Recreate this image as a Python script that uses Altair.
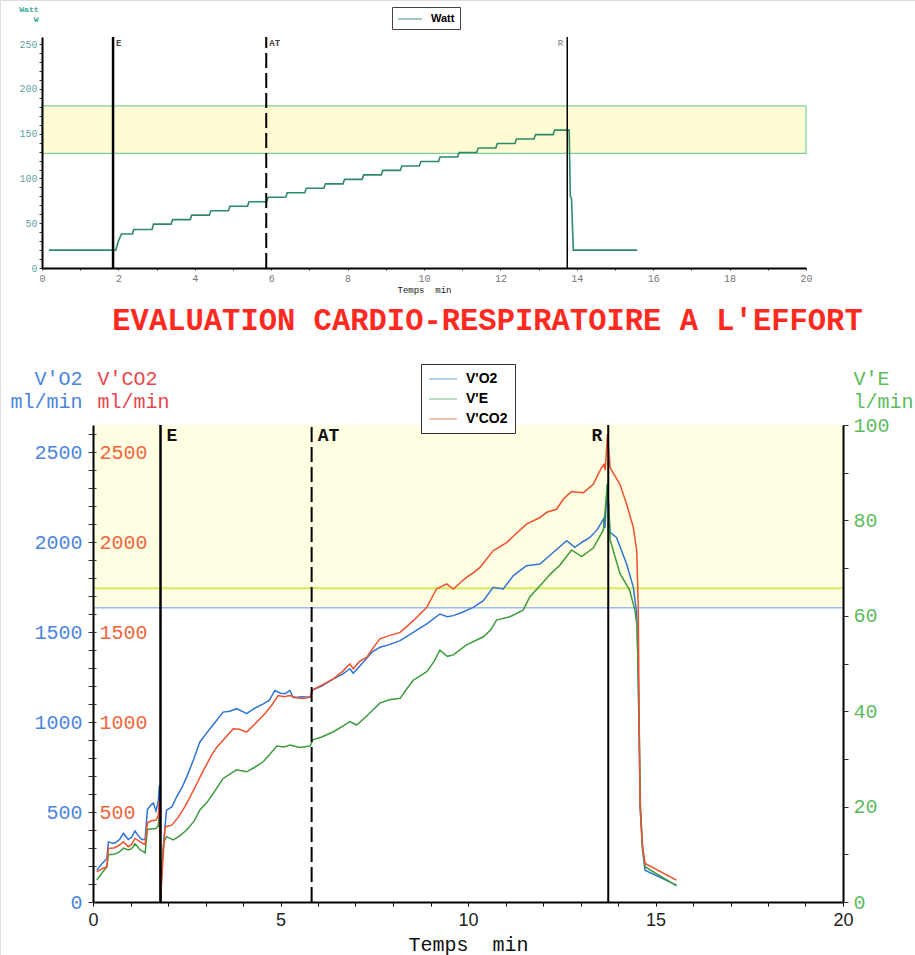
import altair as alt
import pandas as pd

# ---------------- Top panel (Watt) ----------------
watt_t = [0.18, 1.93, 2.00, 2.08, 2.37, 2.40, 2.88, 2.92, 3.38, 3.42, 3.88, 3.92,
          4.38, 4.42, 4.88, 4.92, 5.38, 5.42, 5.88, 5.92, 6.38, 6.42, 6.88, 6.92,
          7.38, 7.42, 7.88, 7.92, 8.38, 8.42, 8.88, 8.92, 9.38, 9.42, 9.88, 9.92,
          10.38, 10.42, 10.88, 10.92, 11.38, 11.42, 11.88, 11.92, 12.38, 12.42,
          12.88, 12.92, 13.38, 13.42, 13.80, 13.83, 13.86, 13.91, 15.58]
watt_v = [20, 20, 30, 38, 38, 43, 43, 49, 49, 54, 54, 59,
          59, 64, 64, 69, 69, 74, 74, 79, 79, 84, 84, 89,
          89, 94, 94, 99, 99, 104, 104, 109, 109, 114, 114, 119,
          119, 124, 124, 129, 129, 134, 134, 139, 139, 144,
          144, 149, 149, 154, 154, 80, 78, 20, 20]
top_marker_lab = ["E", "AT", "R"]
top_marker_t = [1.86, 5.87, 13.75]
top_band_lo, top_band_hi = 128, 181

# ---------------- Bottom panel ----------------
vo2_t = [0.10, 0.25, 0.37, 0.41, 0.55, 0.63, 0.72, 0.81, 0.94, 1.03, 1.12, 1.20, 1.30, 1.39,
         1.45, 1.55, 1.61, 1.68, 1.74, 1.77, 1.80, 1.84, 1.89, 1.96, 2.10, 2.23, 2.38, 2.50,
         2.68, 2.85, 3.00, 3.12, 3.30, 3.47, 3.65, 3.83, 4.10, 4.30, 4.54, 4.70, 4.85, 5.00,
         5.12, 5.25, 5.34, 5.55, 5.79, 5.86, 6.10, 6.41, 6.65, 6.85, 6.94, 7.20, 7.45, 7.65,
         7.90, 8.19, 8.54, 8.90, 9.25, 9.45, 9.61, 9.85, 10.14, 10.41, 10.67, 10.94, 11.21,
         11.56, 11.92, 12.27, 12.63, 12.85, 13.05, 13.25, 13.45, 13.61, 13.65, 13.72, 13.79,
         13.96, 14.23, 14.41, 14.50, 14.54, 14.59, 14.65, 14.72, 15.56]
vo2_v = [177, 215, 242, 334, 325, 334, 350, 381, 347, 360, 395, 370, 347, 347,
         514, 540, 550, 506, 560, 649, 10, 200, 344, 510, 528, 584, 640, 695,
         790, 889, 930, 963, 1010, 1055, 1060, 1074, 1046, 1075, 1101, 1120, 1175, 1160,
         1157, 1175, 1135, 1140, 1138, 1179, 1200, 1240, 1265, 1296, 1271, 1330, 1390, 1415,
         1430, 1452, 1498, 1545, 1600, 1585, 1591, 1610, 1637, 1674, 1748, 1739, 1813,
         1868, 1878, 1942, 2007, 1970, 2000, 2025, 2070, 2127, 2078, 2320, 2053,
         2025, 1878, 1748, 1600, 1268, 528, 300, 177, 94]

vco2_t = [0.10, 0.25, 0.37, 0.41, 0.55, 0.63, 0.72, 0.81, 0.94, 1.03, 1.12, 1.25, 1.39,
          1.45, 1.55, 1.68, 1.74, 1.77, 1.80, 1.84, 1.92, 2.10, 2.28, 2.45, 2.59, 2.75,
          2.90, 3.16, 3.30, 3.47, 3.74, 3.90, 4.10, 4.30, 4.45, 4.60, 4.76, 4.94, 5.10,
          5.25, 5.43, 5.60, 5.79, 5.86, 6.10, 6.41, 6.65, 6.85, 6.94, 7.10, 7.30, 7.50,
          7.65, 7.90, 8.19, 8.54, 8.90, 9.16, 9.43, 9.61, 9.80, 9.96, 10.15, 10.32, 10.67,
          11.03, 11.30, 11.56, 11.92, 12.10, 12.36, 12.55, 12.76, 13.08, 13.34, 13.56,
          13.63, 13.66, 13.72, 13.79, 14.05, 14.23, 14.41, 14.50, 14.54, 14.57, 14.59,
          14.65, 14.72, 15.56]
vco2_v = [168, 185, 196, 298, 300, 307, 318, 334, 307, 320, 353, 335, 318,
          440, 450, 455, 480, 565, 0, 150, 417, 427, 473, 530, 584, 650,
          713, 815, 860, 898, 963, 960, 944, 985, 1018, 1050, 1092, 1147, 1140,
          1147, 1135, 1130, 1138, 1179, 1205, 1240, 1280, 1323, 1296, 1335, 1360, 1420,
          1462, 1480, 1498, 1563, 1637, 1739, 1767, 1739, 1775, 1803, 1830, 1859, 1951,
          1997, 2050, 2099, 2136, 2165, 2182, 2240, 2280, 2274, 2321, 2413,
          2431, 2400, 2600, 2413, 2321, 2210, 2080, 1951, 1637, 898, 528,
          320, 214, 122]

ve_t = [0.10, 0.25, 0.37, 0.41, 0.55, 0.63, 0.72, 0.81, 0.94, 1.03, 1.12, 1.25, 1.39,
        1.45, 1.55, 1.68, 1.74, 1.77, 1.80, 1.84, 1.89, 1.96, 2.14, 2.30, 2.50, 2.70,
        2.85, 3.05, 3.21, 3.47, 3.65, 3.83, 4.10, 4.30, 4.54, 4.70, 4.90, 5.10, 5.25,
        5.52, 5.79, 5.86, 6.10, 6.41, 6.65, 6.85, 7.03, 7.30, 7.65, 7.90, 8.19, 8.35,
        8.54, 8.90, 9.10, 9.25, 9.45, 9.61, 9.96, 10.41, 10.60, 10.76, 11.12, 11.47,
        11.65, 12.01, 12.20, 12.45, 12.76, 13.03, 13.34, 13.61, 13.72, 13.79, 14.05,
        14.31, 14.45, 14.51, 14.57, 14.60, 14.65, 14.72, 15.56]
ve_v = [4.6, 6.2, 7.4, 9.9, 10.0, 10.2, 10.6, 11.3, 10.9, 11.2, 12.2, 11.0, 10.3,
        15.2, 15.3, 15.4, 16.0, 18.6, 0.5, 8.0, 12.6, 13.7, 13.0, 13.8, 15.1, 17.0,
        19.3, 21.0, 22.8, 25.9, 26.8, 27.7, 27.3, 28.2, 29.4, 30.8, 32.7, 32.5, 32.9,
        32.4, 32.7, 34.0, 34.6, 35.7, 36.8, 37.8, 37.1, 39.0, 41.7, 42.4, 42.7, 44.5,
        46.5, 48.3, 50.5, 52.8, 51.5, 51.8, 53.9, 55.6, 57.0, 59.1, 59.8, 61.2,
        64.0, 67.1, 68.8, 70.6, 73.8, 72.4, 74.2, 78.0, 87.8, 75.9, 68.9,
        65.4, 61.2, 57.7, 34.0, 20.1, 12.0, 7.4, 3.4]

bot_marker_lab = ["E", "AT", "R"]
bot_marker_t = [1.80, 5.83, 13.74]
vo2_ref = 1635
ve_ref = 65.8
bot_band_lo, bot_band_hi = 1635, 2650

series_names = ["V'O2", "V'E", "V'CO2"]

# ---------------- colours / fonts ----------------
BLUE, GREEN, RED = "#2f74d6", "#3c9c3c", "#f2502d"
MONO = "Liberation Mono"
SANS = "Liberation Sans"
W, H = 915, 955


def sx_top():
    return alt.Scale(domain=[0, 20], range=[42, 806], nice=False, zero=False)


def sy_top():
    return alt.Scale(domain=[0, 258], range=[268, 37], nice=False, zero=False)


def sx_bot():
    return alt.Scale(domain=[0, 20], range=[93, 843], nice=False, zero=False)


def sy_ml():
    return alt.Scale(domain=[0, 2650], range=[902, 425], nice=False, zero=False)


def sy_ve():
    return alt.Scale(domain=[0, 100], range=[902, 425], nice=False, zero=False)


# ---------------- dataframes ----------------
watt_df = pd.DataFrame({"t": watt_t, "v": watt_v, "s": "Watt"})
top_band_df = pd.DataFrame({"x0": [0], "x1": [20], "y0": [top_band_lo], "y1": [top_band_hi]})
top_mk = pd.DataFrame({"t": top_marker_t, "lab": top_marker_lab, "y0": 0, "y1": 258})
bot_band_df = pd.DataFrame({"x0": [0], "x1": [20], "y0": [bot_band_lo], "y1": [bot_band_hi]})
bot_mk = pd.DataFrame({"t": bot_marker_t, "lab": bot_marker_lab, "y0": 0, "y1": 2650})
vo2_df = pd.DataFrame({"t": vo2_t, "v": vo2_v, "s": series_names[0]})
ve_df = pd.DataFrame({"t": ve_t, "v": ve_v, "s": series_names[1]})
vco2_df = pd.DataFrame({"t": vco2_t, "v": vco2_v, "s": series_names[2]})
ref_ml_df = pd.DataFrame({"x0": [0], "x1": [20], "v": [vo2_ref]})
ref_ve_df = pd.DataFrame({"x0": [0], "x1": [20], "v": [ve_ref]})

# ---------------- axes ----------------
ax_top_x = alt.Axis(orient="bottom", offset=268 - H, values=list(range(0, 21)),
                    labelExpr="datum.value % 2 == 0 ? datum.label : ''", format="d",
                    tickSize=2, tickColor="#333", domainColor="black", domainWidth=2,
                    labelFont=MONO, labelFontSize=10, labelColor="#777", labelPadding=3,
                    labelFlush=False, labelOverlap=False, grid=False,
                    title="Temps\u00a0 min", titleFont=MONO, titleFontSize=9,
                    titleFontWeight="normal", titleColor="#222", titleX=424, titleY=24,
                    titleAlign="center", titleBaseline="alphabetic", zindex=2)
ax_top_y = alt.Axis(orient="left", offset=-42, values=list(range(0, 251, 10)),
                    labelExpr="datum.value % 50 == 0 ? datum.label : ''", format="d",
                    tickSize=3, tickColor="#333", domainColor="black", domainWidth=2,
                    labelFont=MONO, labelFontSize=10, labelColor="#5fa3a3", labelPadding=2,
                    labelOverlap=False, grid=False,
                    title=["Watt", "W"], titleAngle=0, titleAlign="right", titleX=-4, titleY=5,
                    titleBaseline="top", titleFont=MONO, titleFontSize=8, titleFontWeight="bold",
                    titleColor="#3aa89a", titleLineHeight=10, zindex=2)
ax_bot_x = alt.Axis(orient="bottom", offset=902 - H, values=list(range(0, 21)),
                    labelExpr="datum.value % 5 == 0 ? datum.label : ''", format="d",
                    tickSize=4, tickColor="black", domainColor="black", domainWidth=2,
                    labelFont=SANS, labelFontSize=18, labelColor="#222", labelPadding=5,
                    labelFlush=False, labelOverlap=False, grid=False,
                    title="Temps\u00a0 min", titleFont=MONO, titleFontSize=20,
                    titleFontWeight="normal", titleColor="#111", titleX=468, titleY=48,
                    titleAlign="center", titleBaseline="alphabetic", zindex=2)
ax_vo2 = alt.Axis(orient="left", offset=-93, values=list(range(0, 2601, 100)),
                  labelExpr="datum.value % 500 == 0 ? datum.label : ''", format="d",
                  tickSize=5, tickColor="#333", domainColor="black", domainWidth=2,
                  labelFont=MONO, labelFontSize=20, labelColor="#4a84e0", labelPadding=6,
                  labelOverlap=False, grid=False,
                  title=["V'O2", "ml/min"], titleAngle=0, titleAlign="right", titleX=-11,
                  titleY=368, titleBaseline="top", titleFont=MONO, titleFontSize=20,
                  titleFontWeight="normal", titleColor="#4a84e0", titleLineHeight=23, zindex=2)
ax_vco2 = alt.Axis(orient="right", offset=93 - W, values=list(range(0, 2601, 100)),
                   labelExpr="datum.value % 500 == 0 && datum.value > 0 ? datum.label : ''",
                   format="d", tickSize=3, tickColor="#333", domain=False,
                   labelFont=MONO, labelFontSize=20, labelColor="#f0643c", labelPadding=3,
                   labelOverlap=False, grid=False,
                   title=["V'CO2", "ml/min"], titleAngle=0, titleAlign="left", titleX=4,
                   titleY=368, titleBaseline="top", titleFont=MONO, titleFontSize=20,
                   titleFontWeight="normal", titleColor="#e8464c", titleLineHeight=23, zindex=2)
ax_ve = alt.Axis(orient="right", offset=843 - W, values=list(range(0, 101, 10)),
                 labelExpr="datum.value % 20 == 0 ? datum.label : ''", format="d",
                 tickSize=5, tickColor="#333", domainColor="black", domainWidth=2,
                 labelFont=MONO, labelFontSize=20, labelColor="#5cbb5c", labelPadding=5,
                 labelOverlap=False, grid=False,
                 title=["V'E", "l/min"], titleAngle=0, titleAlign="left", titleX=10,
                 titleY=368, titleBaseline="top", titleFont=MONO, titleFontSize=20,
                 titleFontWeight="normal", titleColor="#5cbb5c", titleLineHeight=23, zindex=2)

# ---------------- top layers ----------------
top_band = alt.Chart(top_band_df).mark_rect(fill="#fffbd2", stroke="#7dd3a0", strokeWidth=1.2).encode(
    x=alt.X("x0:Q", scale=sx_top(), axis=None), x2="x1:Q",
    y=alt.Y("y0:Q", scale=sy_top(), axis=None), y2="y1:Q")

top_line = alt.Chart(watt_df).mark_line(strokeWidth=1.6).encode(
    x=alt.X("t:Q", scale=sx_top(), axis=ax_top_x),
    y=alt.Y("v:Q", scale=sy_top(), axis=ax_top_y),
    color=alt.Color("s:N", scale=alt.Scale(domain=["Watt"], range=["#2d8a68"]),
                    legend=alt.Legend(orient="none", legendX=392, legendY=7, title=None,
                                      symbolType="M-1,0L3,0", symbolSize=144,
                                      symbolStrokeWidth=1.5, symbolOpacity=0.6,
                                      labelFont=SANS, labelFontSize=11, labelFontWeight="bold",
                                      labelColor="black", strokeColor="#444", fillColor="white",
                                      padding=5, labelOffset=20, cornerRadius=0)))


def rules(df, sx, sy, names, width, dash=None):
    d = df[df["lab"].isin(names)]
    kw = dict(color="black", strokeWidth=width)
    if dash:
        kw["strokeDash"] = dash
    return alt.Chart(d).mark_rule(**kw).encode(
        x=alt.X("t:Q", scale=sx, axis=None),
        y=alt.Y("y0:Q", scale=sy, axis=None), y2="y1:Q")


def labels(df, sx, sy, names, align, dx, size, color, weight):
    d = df[df["lab"].isin(names)]
    return alt.Chart(d).mark_text(align=align, baseline="top", dx=dx, dy=2, font=MONO,
                                  fontSize=size, fontWeight=weight, color=color).encode(
        x=alt.X("t:Q", scale=sx, axis=None),
        y=alt.Y("y1:Q", scale=sy, axis=None),
        text="lab:N")


top_r_E = rules(top_mk, sx_top(), sy_top(), ["E"], 2.5)
top_r_AT = rules(top_mk, sx_top(), sy_top(), ["AT"], 2, [15, 5])
top_r_R = rules(top_mk, sx_top(), sy_top(), ["R"], 1.5)
top_lab_l = labels(top_mk, sx_top(), sy_top(), ["E", "AT"], "left", 3, 9, "#444", "bold")
top_lab_r = labels(top_mk, sx_top(), sy_top(), ["R"], "right", -4, 9, "#777", "normal")

# ---------------- bottom layers ----------------
bot_band = alt.Chart(bot_band_df).mark_rect(fill="#fffde2").encode(
    x=alt.X("x0:Q", scale=sx_bot(), axis=None), x2="x1:Q",
    y=alt.Y("y0:Q", scale=sy_ml(), axis=None), y2="y1:Q")

ref_ml = alt.Chart(ref_ml_df).mark_rule(color="#9db8ec", strokeWidth=1.5).encode(
    x=alt.X("x0:Q", scale=sx_bot(), axis=None), x2="x1:Q",
    y=alt.Y("v:Q", scale=sy_ml(), axis=None))
ref_ve = alt.Chart(ref_ve_df).mark_rule(color="#d2ec5c", strokeWidth=2).encode(
    x=alt.X("x0:Q", scale=sx_bot(), axis=None), x2="x1:Q",
    y=alt.Y("v:Q", scale=sy_ve(), axis=None))

color_scale = alt.Scale(domain=series_names, range=[BLUE, GREEN, RED])
bot_legend = alt.Legend(orient="none", legendX=421, legendY=364, title=None,
                        symbolType="M-1,0L3,0", symbolSize=196, symbolStrokeWidth=1.5,
                        symbolOpacity=0.45, labelFont=SANS, labelFontSize=14,
                        labelFontWeight="bold", labelColor="black", strokeColor="#333",
                        fillColor="white", padding=7, rowPadding=5, labelOffset=22,
                        cornerRadius=0)

vo2_line = alt.Chart(vo2_df).mark_line(strokeWidth=1.5).encode(
    x=alt.X("t:Q", scale=sx_bot(), axis=ax_bot_x),
    y=alt.Y("v:Q", scale=sy_ml(), axis=ax_vo2),
    color=alt.Color("s:N", scale=color_scale, legend=bot_legend))
ve_line = alt.Chart(ve_df).mark_line(strokeWidth=1.5).encode(
    x=alt.X("t:Q", scale=sx_bot(), axis=ax_bot_x),
    y=alt.Y("v:Q", scale=sy_ve(), axis=ax_ve),
    color=alt.Color("s:N", scale=color_scale, legend=bot_legend))
vco2_line = alt.Chart(vco2_df).mark_line(strokeWidth=1.5).encode(
    x=alt.X("t:Q", scale=sx_bot(), axis=ax_bot_x),
    y=alt.Y("v:Q", scale=sy_ml(), axis=ax_vco2),
    color=alt.Color("s:N", scale=color_scale, legend=bot_legend))

bot_lines = alt.layer(vo2_line, ve_line, vco2_line).resolve_scale(y="independent")

bot_r_E = rules(bot_mk, sx_bot(), sy_ml(), ["E"], 2.5)
bot_r_AT = rules(bot_mk, sx_bot(), sy_ml(), ["AT"], 2, [15, 5])
bot_r_R = rules(bot_mk, sx_bot(), sy_ml(), ["R"], 2)
bot_lab_l = labels(bot_mk, sx_bot(), sy_ml(), ["E", "AT"], "left", 6, 18, "#111", "bold")
bot_lab_r = labels(bot_mk, sx_bot(), sy_ml(), ["R"], "right", -6, 18, "#111", "bold")

chart = alt.layer(
    top_band, top_line, top_r_E, top_r_AT, top_r_R, top_lab_l, top_lab_r,
    bot_band, ref_ml, ref_ve, bot_lines, bot_r_E, bot_r_AT, bot_r_R, bot_lab_l, bot_lab_r,
).resolve_scale(
    x="independent", y="independent", color="independent"
).properties(
    width=W, height=H, padding=0,
    autosize=alt.AutoSizeParams(type="none"),
    title=alt.Title("EVALUATION CARDIO-RESPIRATOIRE A L'EFFORT", font=MONO, fontSize=30.5,
                    fontWeight="bold", color="#ff2a1f", anchor="middle", frame="group",
                    dx=30, dy=340),
).configure_view(stroke=None).configure(background="white")

chart.save("out.html", embed_options={"renderer": "svg", "actions": False})
